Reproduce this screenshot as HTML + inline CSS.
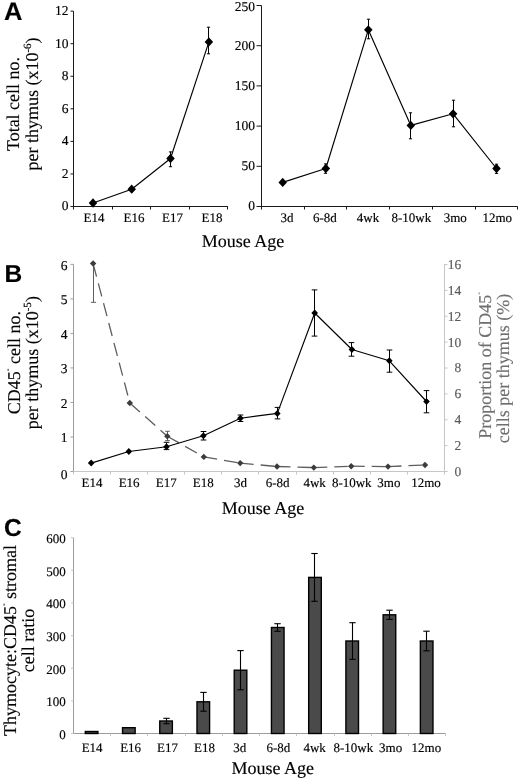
<!DOCTYPE html>
<html><head><meta charset="utf-8"><style>
html,body{margin:0;padding:0;background:#fff;}
body{width:520px;height:781px;overflow:hidden;font-family:"Liberation Serif", serif;}
svg{display:block;filter:grayscale(1) blur(0.35px);}
text{text-rendering:geometricPrecision;stroke:currentColor;stroke-width:0.15px;}
</style></head><body>
<svg width="520" height="781" viewBox="0 0 520 781">
<rect width="520" height="781" fill="#fff"/>
<line x1="73.5" y1="11.14" x2="73.5" y2="209.5" stroke="#1a1a1a" stroke-width="1" />
<line x1="73.5" y1="206.5" x2="227.9" y2="206.5" stroke="#1a1a1a" stroke-width="1" />
<line x1="70.5" y1="206.5" x2="73.5" y2="206.5" stroke="#1a1a1a" stroke-width="1" />
<text x="68.5" y="210.4" font-size="13.5" text-anchor="end" fill="#000" color="#000" font-family='"Liberation Serif", serif' font-weight="normal" >0</text>
<line x1="70.5" y1="173.94" x2="73.5" y2="173.94" stroke="#1a1a1a" stroke-width="1" />
<text x="68.5" y="177.84" font-size="13.5" text-anchor="end" fill="#000" color="#000" font-family='"Liberation Serif", serif' font-weight="normal" >2</text>
<line x1="70.5" y1="141.38" x2="73.5" y2="141.38" stroke="#1a1a1a" stroke-width="1" />
<text x="68.5" y="145.28" font-size="13.5" text-anchor="end" fill="#000" color="#000" font-family='"Liberation Serif", serif' font-weight="normal" >4</text>
<line x1="70.5" y1="108.82" x2="73.5" y2="108.82" stroke="#1a1a1a" stroke-width="1" />
<text x="68.5" y="112.72" font-size="13.5" text-anchor="end" fill="#000" color="#000" font-family='"Liberation Serif", serif' font-weight="normal" >6</text>
<line x1="70.5" y1="76.26" x2="73.5" y2="76.26" stroke="#1a1a1a" stroke-width="1" />
<text x="68.5" y="80.16" font-size="13.5" text-anchor="end" fill="#000" color="#000" font-family='"Liberation Serif", serif' font-weight="normal" >8</text>
<line x1="70.5" y1="43.7" x2="73.5" y2="43.7" stroke="#1a1a1a" stroke-width="1" />
<text x="68.5" y="47.6" font-size="13.5" text-anchor="end" fill="#000" color="#000" font-family='"Liberation Serif", serif' font-weight="normal" >10</text>
<line x1="70.5" y1="11.14" x2="73.5" y2="11.14" stroke="#1a1a1a" stroke-width="1" />
<text x="68.5" y="15.04" font-size="13.5" text-anchor="end" fill="#000" color="#000" font-family='"Liberation Serif", serif' font-weight="normal" >12</text>
<line x1="112.5" y1="206.5" x2="112.5" y2="209.5" stroke="#1a1a1a" stroke-width="1" />
<line x1="150.5" y1="206.5" x2="150.5" y2="209.5" stroke="#1a1a1a" stroke-width="1" />
<line x1="189.5" y1="206.5" x2="189.5" y2="209.5" stroke="#1a1a1a" stroke-width="1" />
<line x1="227.5" y1="206.5" x2="227.5" y2="209.5" stroke="#1a1a1a" stroke-width="1" />
<text x="94" y="222.1" font-size="13" text-anchor="middle" fill="#000" color="#000" font-family='"Liberation Serif", serif' font-weight="normal" >E14</text>
<text x="134" y="222.1" font-size="13" text-anchor="middle" fill="#000" color="#000" font-family='"Liberation Serif", serif' font-weight="normal" >E16</text>
<text x="172.6" y="222.1" font-size="13" text-anchor="middle" fill="#000" color="#000" font-family='"Liberation Serif", serif' font-weight="normal" >E17</text>
<text x="212.1" y="222.1" font-size="13" text-anchor="middle" fill="#000" color="#000" font-family='"Liberation Serif", serif' font-weight="normal" >E18</text>
<polyline points="93,203 131.7,189.2 170.5,158.5 208.9,41.9" fill="none" stroke="#000" stroke-width="1.15" stroke-linejoin="round" />
<polygon points="93,198.35 97.25,203 93,207.65 88.75,203" fill="#000" stroke="none" stroke-width="0"/>
<polygon points="131.7,184.55 135.95,189.2 131.7,193.85 127.45,189.2" fill="#000" stroke="none" stroke-width="0"/>
<line x1="170.5" y1="151.9" x2="170.5" y2="166.7" stroke="#000" stroke-width="1" />
<line x1="168.9" y1="151.9" x2="172.1" y2="151.9" stroke="#000" stroke-width="1" />
<line x1="168.9" y1="166.7" x2="172.1" y2="166.7" stroke="#000" stroke-width="1" />
<polygon points="170.5,153.85 174.75,158.5 170.5,163.15 166.25,158.5" fill="#000" stroke="none" stroke-width="0"/>
<line x1="208.5" y1="27.2" x2="208.5" y2="53.8" stroke="#000" stroke-width="1" />
<line x1="206.9" y1="27.2" x2="210.1" y2="27.2" stroke="#000" stroke-width="1" />
<line x1="206.9" y1="53.8" x2="210.1" y2="53.8" stroke="#000" stroke-width="1" />
<polygon points="208.9,37.25 213.15,41.9 208.9,46.55 204.65,41.9" fill="#000" stroke="none" stroke-width="0"/>
<line x1="261.5" y1="5.5" x2="261.5" y2="209.5" stroke="#1a1a1a" stroke-width="1" />
<line x1="261.5" y1="206.5" x2="517.7" y2="206.5" stroke="#1a1a1a" stroke-width="1" />
<line x1="256.5" y1="206.5" x2="261.5" y2="206.5" stroke="#1a1a1a" stroke-width="1" />
<text x="255" y="210.4" font-size="13.5" text-anchor="end" fill="#000" color="#000" font-family='"Liberation Serif", serif' font-weight="normal" >0</text>
<line x1="256.5" y1="166.3" x2="261.5" y2="166.3" stroke="#1a1a1a" stroke-width="1" />
<text x="255" y="170.2" font-size="13.5" text-anchor="end" fill="#000" color="#000" font-family='"Liberation Serif", serif' font-weight="normal" >50</text>
<line x1="256.5" y1="126.1" x2="261.5" y2="126.1" stroke="#1a1a1a" stroke-width="1" />
<text x="255" y="130" font-size="13.5" text-anchor="end" fill="#000" color="#000" font-family='"Liberation Serif", serif' font-weight="normal" >100</text>
<line x1="256.5" y1="85.9" x2="261.5" y2="85.9" stroke="#1a1a1a" stroke-width="1" />
<text x="255" y="89.8" font-size="13.5" text-anchor="end" fill="#000" color="#000" font-family='"Liberation Serif", serif' font-weight="normal" >150</text>
<line x1="256.5" y1="45.7" x2="261.5" y2="45.7" stroke="#1a1a1a" stroke-width="1" />
<text x="255" y="49.6" font-size="13.5" text-anchor="end" fill="#000" color="#000" font-family='"Liberation Serif", serif' font-weight="normal" >200</text>
<line x1="256.5" y1="5.5" x2="261.5" y2="5.5" stroke="#1a1a1a" stroke-width="1" />
<text x="255" y="11.4" font-size="13.5" text-anchor="end" fill="#000" color="#000" font-family='"Liberation Serif", serif' font-weight="normal" >250</text>
<line x1="304.5" y1="206.5" x2="304.5" y2="209.5" stroke="#1a1a1a" stroke-width="1" />
<line x1="346.5" y1="206.5" x2="346.5" y2="209.5" stroke="#1a1a1a" stroke-width="1" />
<line x1="389.5" y1="206.5" x2="389.5" y2="209.5" stroke="#1a1a1a" stroke-width="1" />
<line x1="432.5" y1="206.5" x2="432.5" y2="209.5" stroke="#1a1a1a" stroke-width="1" />
<line x1="475.5" y1="206.5" x2="475.5" y2="209.5" stroke="#1a1a1a" stroke-width="1" />
<line x1="517.5" y1="206.5" x2="517.5" y2="209.5" stroke="#1a1a1a" stroke-width="1" />
<text x="287" y="222.1" font-size="13" text-anchor="middle" fill="#000" color="#000" font-family='"Liberation Serif", serif' font-weight="normal" >3d</text>
<text x="324.9" y="222.1" font-size="13" text-anchor="middle" fill="#000" color="#000" font-family='"Liberation Serif", serif' font-weight="normal" >6-8d</text>
<text x="368" y="222.1" font-size="13" text-anchor="middle" fill="#000" color="#000" font-family='"Liberation Serif", serif' font-weight="normal" >4wk</text>
<text x="411.4" y="222.1" font-size="13" text-anchor="middle" fill="#000" color="#000" font-family='"Liberation Serif", serif' font-weight="normal" >8-10wk</text>
<text x="455.2" y="222.1" font-size="13" text-anchor="middle" fill="#000" color="#000" font-family='"Liberation Serif", serif' font-weight="normal" >3mo</text>
<text x="497.2" y="222.1" font-size="13" text-anchor="middle" fill="#000" color="#000" font-family='"Liberation Serif", serif' font-weight="normal" >12mo</text>
<polyline points="282.7,182.4 325.8,168.5 368.3,29.8 410.8,125.4 453.1,113.8 496.5,168.5" fill="none" stroke="#000" stroke-width="1.15" stroke-linejoin="round" />
<polygon points="282.7,177.75 286.95,182.4 282.7,187.05 278.45,182.4" fill="#000" stroke="none" stroke-width="0"/>
<line x1="325.5" y1="163.9" x2="325.5" y2="173.3" stroke="#000" stroke-width="1" />
<line x1="323.9" y1="163.9" x2="327.1" y2="163.9" stroke="#000" stroke-width="1" />
<line x1="323.9" y1="173.3" x2="327.1" y2="173.3" stroke="#000" stroke-width="1" />
<polygon points="325.8,163.85 330.05,168.5 325.8,173.15 321.55,168.5" fill="#000" stroke="none" stroke-width="0"/>
<line x1="368.5" y1="19.2" x2="368.5" y2="38.8" stroke="#000" stroke-width="1" />
<line x1="366.9" y1="19.2" x2="370.1" y2="19.2" stroke="#000" stroke-width="1" />
<line x1="366.9" y1="38.8" x2="370.1" y2="38.8" stroke="#000" stroke-width="1" />
<polygon points="368.3,25.15 372.55,29.8 368.3,34.45 364.05,29.8" fill="#000" stroke="none" stroke-width="0"/>
<line x1="410.5" y1="112.8" x2="410.5" y2="138.8" stroke="#000" stroke-width="1" />
<line x1="408.9" y1="112.8" x2="412.1" y2="112.8" stroke="#000" stroke-width="1" />
<line x1="408.9" y1="138.8" x2="412.1" y2="138.8" stroke="#000" stroke-width="1" />
<polygon points="410.8,120.75 415.05,125.4 410.8,130.05 406.55,125.4" fill="#000" stroke="none" stroke-width="0"/>
<line x1="453.5" y1="100.2" x2="453.5" y2="126.8" stroke="#000" stroke-width="1" />
<line x1="451.9" y1="100.2" x2="455.1" y2="100.2" stroke="#000" stroke-width="1" />
<line x1="451.9" y1="126.8" x2="455.1" y2="126.8" stroke="#000" stroke-width="1" />
<polygon points="453.1,109.15 457.35,113.8 453.1,118.45 448.85,113.8" fill="#000" stroke="none" stroke-width="0"/>
<line x1="496.5" y1="164.2" x2="496.5" y2="173.4" stroke="#000" stroke-width="1" />
<line x1="494.9" y1="164.2" x2="498.1" y2="164.2" stroke="#000" stroke-width="1" />
<line x1="494.9" y1="173.4" x2="498.1" y2="173.4" stroke="#000" stroke-width="1" />
<polygon points="496.5,163.85 500.75,168.5 496.5,173.15 492.25,168.5" fill="#000" stroke="none" stroke-width="0"/>
<text x="4" y="19.8" font-size="25.5" text-anchor="start" fill="#000" color="#000" font-family='"Liberation Sans", sans-serif' font-weight="bold" >A</text>
<text x="243" y="247" font-size="18" text-anchor="middle" fill="#000" color="#000" font-family='"Liberation Serif", serif' font-weight="normal" >Mouse Age</text>
<g transform="translate(19.2,104) rotate(-90)"><text x="0" y="0" font-size="18" text-anchor="middle" font-family='"Liberation Serif", serif'>Total cell no.</text></g>
<g transform="translate(37.5,104) rotate(-90)"><text x="0" y="0" font-size="18" text-anchor="middle" font-family='"Liberation Serif", serif'>per thymus (x10<tspan font-size="11" dy="-7">-6</tspan><tspan dy="7">)</tspan></text></g>
<line x1="73.5" y1="264.38" x2="73.5" y2="471.5" stroke="#9c9c9c" stroke-width="1" />
<line x1="73.5" y1="471.5" x2="447.5" y2="471.5" stroke="#c6c6c6" stroke-width="1" />
<line x1="444.5" y1="264.38" x2="444.5" y2="474.5" stroke="#c6c6c6" stroke-width="1" />
<line x1="70.5" y1="471.5" x2="73.5" y2="471.5" stroke="#9c9c9c" stroke-width="1" />
<text x="67.5" y="478.5" font-size="13.5" text-anchor="end" fill="#000" color="#000" font-family='"Liberation Serif", serif' font-weight="normal" >0</text>
<line x1="70.5" y1="436.98" x2="73.5" y2="436.98" stroke="#9c9c9c" stroke-width="1" />
<text x="67.5" y="442.38" font-size="13.5" text-anchor="end" fill="#000" color="#000" font-family='"Liberation Serif", serif' font-weight="normal" >1</text>
<line x1="70.5" y1="402.46" x2="73.5" y2="402.46" stroke="#9c9c9c" stroke-width="1" />
<text x="67.5" y="407.86" font-size="13.5" text-anchor="end" fill="#000" color="#000" font-family='"Liberation Serif", serif' font-weight="normal" >2</text>
<line x1="70.5" y1="367.94" x2="73.5" y2="367.94" stroke="#9c9c9c" stroke-width="1" />
<text x="67.5" y="373.34" font-size="13.5" text-anchor="end" fill="#000" color="#000" font-family='"Liberation Serif", serif' font-weight="normal" >3</text>
<line x1="70.5" y1="333.42" x2="73.5" y2="333.42" stroke="#9c9c9c" stroke-width="1" />
<text x="67.5" y="338.82" font-size="13.5" text-anchor="end" fill="#000" color="#000" font-family='"Liberation Serif", serif' font-weight="normal" >4</text>
<line x1="70.5" y1="298.9" x2="73.5" y2="298.9" stroke="#9c9c9c" stroke-width="1" />
<text x="67.5" y="304.3" font-size="13.5" text-anchor="end" fill="#000" color="#000" font-family='"Liberation Serif", serif' font-weight="normal" >5</text>
<line x1="70.5" y1="264.38" x2="73.5" y2="264.38" stroke="#9c9c9c" stroke-width="1" />
<text x="67.5" y="269.78" font-size="13.5" text-anchor="end" fill="#000" color="#000" font-family='"Liberation Serif", serif' font-weight="normal" >6</text>
<line x1="444.5" y1="471.5" x2="447.5" y2="471.5" stroke="#c6c6c6" stroke-width="1" />
<text x="461.3" y="475.9" font-size="13.5" text-anchor="end" fill="#5a5a5a" color="#5a5a5a" font-family='"Liberation Serif", serif' font-weight="normal" >0</text>
<line x1="444.5" y1="445.62" x2="447.5" y2="445.62" stroke="#c6c6c6" stroke-width="1" />
<text x="461.3" y="450.02" font-size="13.5" text-anchor="end" fill="#5a5a5a" color="#5a5a5a" font-family='"Liberation Serif", serif' font-weight="normal" >2</text>
<line x1="444.5" y1="419.75" x2="447.5" y2="419.75" stroke="#c6c6c6" stroke-width="1" />
<text x="461.3" y="424.15" font-size="13.5" text-anchor="end" fill="#5a5a5a" color="#5a5a5a" font-family='"Liberation Serif", serif' font-weight="normal" >4</text>
<line x1="444.5" y1="393.88" x2="447.5" y2="393.88" stroke="#c6c6c6" stroke-width="1" />
<text x="461.3" y="398.27" font-size="13.5" text-anchor="end" fill="#5a5a5a" color="#5a5a5a" font-family='"Liberation Serif", serif' font-weight="normal" >6</text>
<line x1="444.5" y1="368" x2="447.5" y2="368" stroke="#c6c6c6" stroke-width="1" />
<text x="461.3" y="372.4" font-size="13.5" text-anchor="end" fill="#5a5a5a" color="#5a5a5a" font-family='"Liberation Serif", serif' font-weight="normal" >8</text>
<line x1="444.5" y1="342.12" x2="447.5" y2="342.12" stroke="#c6c6c6" stroke-width="1" />
<text x="461.3" y="346.52" font-size="13.5" text-anchor="end" fill="#5a5a5a" color="#5a5a5a" font-family='"Liberation Serif", serif' font-weight="normal" >10</text>
<line x1="444.5" y1="316.25" x2="447.5" y2="316.25" stroke="#c6c6c6" stroke-width="1" />
<text x="461.3" y="320.65" font-size="13.5" text-anchor="end" fill="#5a5a5a" color="#5a5a5a" font-family='"Liberation Serif", serif' font-weight="normal" >12</text>
<line x1="444.5" y1="290.38" x2="447.5" y2="290.38" stroke="#c6c6c6" stroke-width="1" />
<text x="461.3" y="294.77" font-size="13.5" text-anchor="end" fill="#5a5a5a" color="#5a5a5a" font-family='"Liberation Serif", serif' font-weight="normal" >14</text>
<line x1="444.5" y1="264.5" x2="447.5" y2="264.5" stroke="#c6c6c6" stroke-width="1" />
<text x="461.3" y="268.9" font-size="13.5" text-anchor="end" fill="#5a5a5a" color="#5a5a5a" font-family='"Liberation Serif", serif' font-weight="normal" >16</text>
<line x1="73.5" y1="471.5" x2="73.5" y2="474.5" stroke="#c6c6c6" stroke-width="1" />
<line x1="110.5" y1="471.5" x2="110.5" y2="474.5" stroke="#c6c6c6" stroke-width="1" />
<line x1="147.5" y1="471.5" x2="147.5" y2="474.5" stroke="#c6c6c6" stroke-width="1" />
<line x1="184.5" y1="471.5" x2="184.5" y2="474.5" stroke="#c6c6c6" stroke-width="1" />
<line x1="221.5" y1="471.5" x2="221.5" y2="474.5" stroke="#c6c6c6" stroke-width="1" />
<line x1="258.5" y1="471.5" x2="258.5" y2="474.5" stroke="#c6c6c6" stroke-width="1" />
<line x1="296.5" y1="471.5" x2="296.5" y2="474.5" stroke="#c6c6c6" stroke-width="1" />
<line x1="333.5" y1="471.5" x2="333.5" y2="474.5" stroke="#c6c6c6" stroke-width="1" />
<line x1="370.5" y1="471.5" x2="370.5" y2="474.5" stroke="#c6c6c6" stroke-width="1" />
<line x1="407.5" y1="471.5" x2="407.5" y2="474.5" stroke="#c6c6c6" stroke-width="1" />
<line x1="444.5" y1="471.5" x2="444.5" y2="474.5" stroke="#c6c6c6" stroke-width="1" />
<text x="92.05" y="486.5" font-size="13" text-anchor="middle" fill="#000" color="#000" font-family='"Liberation Serif", serif' font-weight="normal" >E14</text>
<text x="129.15" y="486.5" font-size="13" text-anchor="middle" fill="#000" color="#000" font-family='"Liberation Serif", serif' font-weight="normal" >E16</text>
<text x="166.25" y="486.5" font-size="13" text-anchor="middle" fill="#000" color="#000" font-family='"Liberation Serif", serif' font-weight="normal" >E17</text>
<text x="203.35" y="486.5" font-size="13" text-anchor="middle" fill="#000" color="#000" font-family='"Liberation Serif", serif' font-weight="normal" >E18</text>
<text x="240.45" y="486.5" font-size="13" text-anchor="middle" fill="#000" color="#000" font-family='"Liberation Serif", serif' font-weight="normal" >3d</text>
<text x="277.55" y="486.5" font-size="13" text-anchor="middle" fill="#000" color="#000" font-family='"Liberation Serif", serif' font-weight="normal" >6-8d</text>
<text x="314.65" y="486.5" font-size="13" text-anchor="middle" fill="#000" color="#000" font-family='"Liberation Serif", serif' font-weight="normal" >4wk</text>
<text x="351.75" y="486.5" font-size="13" text-anchor="middle" fill="#000" color="#000" font-family='"Liberation Serif", serif' font-weight="normal" >8-10wk</text>
<text x="388.85" y="486.5" font-size="13" text-anchor="middle" fill="#000" color="#000" font-family='"Liberation Serif", serif' font-weight="normal" >3mo</text>
<text x="425.95" y="486.5" font-size="13" text-anchor="middle" fill="#000" color="#000" font-family='"Liberation Serif", serif' font-weight="normal" >12mo</text>
<line x1="93.1" y1="263.5" x2="129.8" y2="403" stroke="#5e5e5e" stroke-width="1.3" stroke-dasharray="13.5 7"/>
<line x1="129.8" y1="403" x2="167.3" y2="436.2" stroke="#5e5e5e" stroke-width="1.3" stroke-dasharray="13.5 7"/>
<line x1="167.3" y1="436.2" x2="203.8" y2="456.9" stroke="#5e5e5e" stroke-width="1.3" stroke-dasharray="13.5 7"/>
<line x1="203.8" y1="456.9" x2="240.2" y2="463.1" stroke="#5e5e5e" stroke-width="1.3" stroke-dasharray="13.5 7"/>
<line x1="240.2" y1="463.1" x2="277" y2="466.5" stroke="#5e5e5e" stroke-width="1.3" stroke-dasharray="13.5 7"/>
<line x1="277" y1="466.5" x2="313.8" y2="467.6" stroke="#5e5e5e" stroke-width="1.3" stroke-dasharray="13.5 7"/>
<line x1="313.8" y1="467.6" x2="351.2" y2="466.2" stroke="#5e5e5e" stroke-width="1.3" stroke-dasharray="13.5 7"/>
<line x1="351.2" y1="466.2" x2="388" y2="466.6" stroke="#5e5e5e" stroke-width="1.3" stroke-dasharray="13.5 7"/>
<line x1="388" y1="466.6" x2="425" y2="465" stroke="#5e5e5e" stroke-width="1.3" stroke-dasharray="13.5 7"/>
<line x1="93.5" y1="263.5" x2="93.5" y2="302.3" stroke="#5e5e5e" stroke-width="1" />
<line x1="90.9" y1="302.3" x2="96.1" y2="302.3" stroke="#5e5e5e" stroke-width="1" />
<line x1="167.5" y1="431.3" x2="167.5" y2="440.6" stroke="#5e5e5e" stroke-width="1" />
<line x1="165.2" y1="431.3" x2="169.8" y2="431.3" stroke="#5e5e5e" stroke-width="1" />
<line x1="165.2" y1="440.6" x2="169.8" y2="440.6" stroke="#5e5e5e" stroke-width="1" />
<polyline points="91.2,463.1 128.8,451.5 166.5,446.7 203.4,435.8 240.4,418.2 277.3,413.4 314.7,313 351.9,349.5 389.3,360.8 426.5,401.5" fill="none" stroke="#000" stroke-width="1.15" stroke-linejoin="round" />
<line x1="166.5" y1="442.3" x2="166.5" y2="449.6" stroke="#000" stroke-width="1" />
<line x1="163.7" y1="442.3" x2="169.3" y2="442.3" stroke="#000" stroke-width="1" />
<line x1="163.7" y1="449.6" x2="169.3" y2="449.6" stroke="#000" stroke-width="1" />
<line x1="203.5" y1="431.5" x2="203.5" y2="440" stroke="#000" stroke-width="1" />
<line x1="200.7" y1="431.5" x2="206.3" y2="431.5" stroke="#000" stroke-width="1" />
<line x1="200.7" y1="440" x2="206.3" y2="440" stroke="#000" stroke-width="1" />
<line x1="240.5" y1="415" x2="240.5" y2="421.5" stroke="#000" stroke-width="1" />
<line x1="237.7" y1="415" x2="243.3" y2="415" stroke="#000" stroke-width="1" />
<line x1="237.7" y1="421.5" x2="243.3" y2="421.5" stroke="#000" stroke-width="1" />
<line x1="277.5" y1="407.4" x2="277.5" y2="418.9" stroke="#000" stroke-width="1" />
<line x1="274.7" y1="407.4" x2="280.3" y2="407.4" stroke="#000" stroke-width="1" />
<line x1="274.7" y1="418.9" x2="280.3" y2="418.9" stroke="#000" stroke-width="1" />
<line x1="314.5" y1="289.9" x2="314.5" y2="336.1" stroke="#000" stroke-width="1" />
<line x1="311.7" y1="289.9" x2="317.3" y2="289.9" stroke="#000" stroke-width="1" />
<line x1="311.7" y1="336.1" x2="317.3" y2="336.1" stroke="#000" stroke-width="1" />
<line x1="351.5" y1="342.6" x2="351.5" y2="356.2" stroke="#000" stroke-width="1" />
<line x1="348.7" y1="342.6" x2="354.3" y2="342.6" stroke="#000" stroke-width="1" />
<line x1="348.7" y1="356.2" x2="354.3" y2="356.2" stroke="#000" stroke-width="1" />
<line x1="389.5" y1="350" x2="389.5" y2="372.2" stroke="#000" stroke-width="1" />
<line x1="386.7" y1="350" x2="392.3" y2="350" stroke="#000" stroke-width="1" />
<line x1="386.7" y1="372.2" x2="392.3" y2="372.2" stroke="#000" stroke-width="1" />
<line x1="426.5" y1="390.6" x2="426.5" y2="412.8" stroke="#000" stroke-width="1" />
<line x1="423.7" y1="390.6" x2="429.3" y2="390.6" stroke="#000" stroke-width="1" />
<line x1="423.7" y1="412.8" x2="429.3" y2="412.8" stroke="#000" stroke-width="1" />
<polygon points="93.1,260.3 96.3,263.5 93.1,266.7 89.9,263.5" fill="#3c3c3c" stroke="none" stroke-width="0"/>
<polygon points="129.8,399.8 133,403 129.8,406.2 126.6,403" fill="#3c3c3c" stroke="none" stroke-width="0"/>
<polygon points="167.3,433 170.5,436.2 167.3,439.4 164.1,436.2" fill="#3c3c3c" stroke="none" stroke-width="0"/>
<polygon points="203.8,453.7 207,456.9 203.8,460.1 200.6,456.9" fill="#3c3c3c" stroke="none" stroke-width="0"/>
<polygon points="240.2,459.9 243.4,463.1 240.2,466.3 237,463.1" fill="#3c3c3c" stroke="none" stroke-width="0"/>
<polygon points="277,463.3 280.2,466.5 277,469.7 273.8,466.5" fill="#3c3c3c" stroke="none" stroke-width="0"/>
<polygon points="313.8,464.4 317,467.6 313.8,470.8 310.6,467.6" fill="#3c3c3c" stroke="none" stroke-width="0"/>
<polygon points="351.2,463 354.4,466.2 351.2,469.4 348,466.2" fill="#3c3c3c" stroke="none" stroke-width="0"/>
<polygon points="388,463.4 391.2,466.6 388,469.8 384.8,466.6" fill="#3c3c3c" stroke="none" stroke-width="0"/>
<polygon points="425,461.8 428.2,465 425,468.2 421.8,465" fill="#3c3c3c" stroke="none" stroke-width="0"/>
<polygon points="91.2,459.6 94.5,463.1 91.2,466.6 87.9,463.1" fill="#000" stroke="none" stroke-width="0"/>
<polygon points="128.8,448 132.1,451.5 128.8,455 125.5,451.5" fill="#000" stroke="none" stroke-width="0"/>
<polygon points="166.5,443.2 169.8,446.7 166.5,450.2 163.2,446.7" fill="#000" stroke="none" stroke-width="0"/>
<polygon points="203.4,432.3 206.7,435.8 203.4,439.3 200.1,435.8" fill="#000" stroke="none" stroke-width="0"/>
<polygon points="240.4,414.7 243.7,418.2 240.4,421.7 237.1,418.2" fill="#000" stroke="none" stroke-width="0"/>
<polygon points="277.3,409.9 280.6,413.4 277.3,416.9 274,413.4" fill="#000" stroke="none" stroke-width="0"/>
<polygon points="314.7,309.5 318,313 314.7,316.5 311.4,313" fill="#000" stroke="none" stroke-width="0"/>
<polygon points="351.9,346 355.2,349.5 351.9,353 348.6,349.5" fill="#000" stroke="none" stroke-width="0"/>
<polygon points="389.3,357.3 392.6,360.8 389.3,364.3 386,360.8" fill="#000" stroke="none" stroke-width="0"/>
<polygon points="426.5,398 429.8,401.5 426.5,405 423.2,401.5" fill="#000" stroke="none" stroke-width="0"/>
<text x="4.5" y="282" font-size="24.5" text-anchor="start" fill="#000" color="#000" font-family='"Liberation Sans", sans-serif' font-weight="bold" >B</text>
<text x="263" y="513.5" font-size="18" text-anchor="middle" fill="#000" color="#000" font-family='"Liberation Serif", serif' font-weight="normal" >Mouse Age</text>
<g transform="translate(19.5,362.7) rotate(-90)"><text x="0" y="0" font-size="18" text-anchor="middle" font-family='"Liberation Serif", serif'>CD45<tspan font-size="8" dy="-9.5">-</tspan><tspan dy="9.5"> cell no.</tspan></text></g>
<g transform="translate(37.6,362.7) rotate(-90)"><text x="0" y="0" font-size="18" text-anchor="middle" font-family='"Liberation Serif", serif'>per thymus (x10<tspan font-size="11" dy="-7">-5</tspan><tspan dy="7">)</tspan></text></g>
<g transform="translate(490.8,365.4) rotate(-90)"><text x="0" y="0" font-size="18" text-anchor="middle" fill="#6e6e6e" color="#6e6e6e" font-family='"Liberation Serif", serif'>Proportion of CD45<tspan font-size="8" dy="-9.5">-</tspan></text></g>
<g transform="translate(509,368.4) rotate(-90)"><text x="0" y="0" font-size="18" text-anchor="middle" fill="#6e6e6e" color="#6e6e6e" font-family='"Liberation Serif", serif'>cells per thymus (%)</text></g>
<line x1="73.5" y1="537.7" x2="73.5" y2="733.5" stroke="#9c9c9c" stroke-width="1" />
<line x1="73.5" y1="733.5" x2="445.9" y2="733.5" stroke="#9c9c9c" stroke-width="1" />
<line x1="71" y1="733.5" x2="73.5" y2="733.5" stroke="#c6c6c6" stroke-width="1" />
<text x="65.7" y="738.9" font-size="13" text-anchor="end" fill="#000" color="#000" font-family='"Liberation Serif", serif' font-weight="normal" >0</text>
<line x1="71" y1="700.87" x2="73.5" y2="700.87" stroke="#c6c6c6" stroke-width="1" />
<text x="65.7" y="706.27" font-size="13" text-anchor="end" fill="#000" color="#000" font-family='"Liberation Serif", serif' font-weight="normal" >100</text>
<line x1="71" y1="668.23" x2="73.5" y2="668.23" stroke="#c6c6c6" stroke-width="1" />
<text x="65.7" y="673.63" font-size="13" text-anchor="end" fill="#000" color="#000" font-family='"Liberation Serif", serif' font-weight="normal" >200</text>
<line x1="71" y1="635.6" x2="73.5" y2="635.6" stroke="#c6c6c6" stroke-width="1" />
<text x="65.7" y="641" font-size="13" text-anchor="end" fill="#000" color="#000" font-family='"Liberation Serif", serif' font-weight="normal" >300</text>
<line x1="71" y1="602.97" x2="73.5" y2="602.97" stroke="#c6c6c6" stroke-width="1" />
<text x="65.7" y="608.37" font-size="13" text-anchor="end" fill="#000" color="#000" font-family='"Liberation Serif", serif' font-weight="normal" >400</text>
<line x1="71" y1="570.33" x2="73.5" y2="570.33" stroke="#c6c6c6" stroke-width="1" />
<text x="65.7" y="575.73" font-size="13" text-anchor="end" fill="#000" color="#000" font-family='"Liberation Serif", serif' font-weight="normal" >500</text>
<line x1="71" y1="537.7" x2="73.5" y2="537.7" stroke="#c6c6c6" stroke-width="1" />
<text x="65.7" y="543.1" font-size="13" text-anchor="end" fill="#000" color="#000" font-family='"Liberation Serif", serif' font-weight="normal" >600</text>
<line x1="110.5" y1="733.5" x2="110.5" y2="736" stroke="#c6c6c6" stroke-width="1" />
<line x1="147.5" y1="733.5" x2="147.5" y2="736" stroke="#c6c6c6" stroke-width="1" />
<line x1="185.5" y1="733.5" x2="185.5" y2="736" stroke="#c6c6c6" stroke-width="1" />
<line x1="222.5" y1="733.5" x2="222.5" y2="736" stroke="#c6c6c6" stroke-width="1" />
<line x1="259.5" y1="733.5" x2="259.5" y2="736" stroke="#c6c6c6" stroke-width="1" />
<line x1="296.5" y1="733.5" x2="296.5" y2="736" stroke="#c6c6c6" stroke-width="1" />
<line x1="334.5" y1="733.5" x2="334.5" y2="736" stroke="#c6c6c6" stroke-width="1" />
<line x1="371.5" y1="733.5" x2="371.5" y2="736" stroke="#c6c6c6" stroke-width="1" />
<line x1="408.5" y1="733.5" x2="408.5" y2="736" stroke="#c6c6c6" stroke-width="1" />
<line x1="445.5" y1="733.5" x2="445.5" y2="736" stroke="#c6c6c6" stroke-width="1" />
<text x="92.12" y="752" font-size="13" text-anchor="middle" fill="#000" color="#000" font-family='"Liberation Serif", serif' font-weight="normal" >E14</text>
<rect x="85.3" y="731.5" width="12.6" height="2" fill="#4a4a4a" stroke="#000" stroke-width="1.4"/>
<text x="130.66" y="752" font-size="13" text-anchor="middle" fill="#000" color="#000" font-family='"Liberation Serif", serif' font-weight="normal" >E16</text>
<rect x="122.53" y="727.7" width="12.6" height="5.8" fill="#4a4a4a" stroke="#000" stroke-width="1.4"/>
<text x="167.5" y="752" font-size="13" text-anchor="middle" fill="#000" color="#000" font-family='"Liberation Serif", serif' font-weight="normal" >E17</text>
<rect x="159.76" y="721" width="12.6" height="12.5" fill="#4a4a4a" stroke="#000" stroke-width="1.4"/>
<text x="204.54" y="752" font-size="13" text-anchor="middle" fill="#000" color="#000" font-family='"Liberation Serif", serif' font-weight="normal" >E18</text>
<rect x="196.99" y="701.8" width="12.6" height="31.7" fill="#4a4a4a" stroke="#000" stroke-width="1.4"/>
<text x="239.83" y="752" font-size="13" text-anchor="middle" fill="#000" color="#000" font-family='"Liberation Serif", serif' font-weight="normal" >3d</text>
<rect x="234.22" y="670.2" width="12.6" height="63.3" fill="#4a4a4a" stroke="#000" stroke-width="1.4"/>
<text x="278.32" y="752" font-size="13" text-anchor="middle" fill="#000" color="#000" font-family='"Liberation Serif", serif' font-weight="normal" >6-8d</text>
<rect x="271.45" y="627.5" width="12.6" height="106" fill="#4a4a4a" stroke="#000" stroke-width="1.4"/>
<text x="314.66" y="752" font-size="13" text-anchor="middle" fill="#000" color="#000" font-family='"Liberation Serif", serif' font-weight="normal" >4wk</text>
<rect x="308.68" y="577.4" width="12.6" height="156.1" fill="#4a4a4a" stroke="#000" stroke-width="1.4"/>
<text x="353.3" y="752" font-size="13" text-anchor="middle" fill="#000" color="#000" font-family='"Liberation Serif", serif' font-weight="normal" >8-10wk</text>
<rect x="345.91" y="641" width="12.6" height="92.5" fill="#4a4a4a" stroke="#000" stroke-width="1.4"/>
<text x="390.64" y="752" font-size="13" text-anchor="middle" fill="#000" color="#000" font-family='"Liberation Serif", serif' font-weight="normal" >3mo</text>
<rect x="383.14" y="614.8" width="12.6" height="118.7" fill="#4a4a4a" stroke="#000" stroke-width="1.4"/>
<text x="426.38" y="752" font-size="13" text-anchor="middle" fill="#000" color="#000" font-family='"Liberation Serif", serif' font-weight="normal" >12mo</text>
<rect x="420.37" y="641" width="12.6" height="92.5" fill="#4a4a4a" stroke="#000" stroke-width="1.4"/>
<line x1="166.5" y1="718.3" x2="166.5" y2="723.7" stroke="#000" stroke-width="1.1" />
<line x1="163.3" y1="718.3" x2="169.7" y2="718.3" stroke="#000" stroke-width="1.1" />
<line x1="163.3" y1="723.7" x2="169.7" y2="723.7" stroke="#000" stroke-width="1.1" />
<line x1="203.5" y1="692.4" x2="203.5" y2="711.2" stroke="#000" stroke-width="1.1" />
<line x1="200.3" y1="692.4" x2="206.7" y2="692.4" stroke="#000" stroke-width="1.1" />
<line x1="200.3" y1="711.2" x2="206.7" y2="711.2" stroke="#000" stroke-width="1.1" />
<line x1="240.5" y1="650.6" x2="240.5" y2="689.8" stroke="#000" stroke-width="1.1" />
<line x1="237.3" y1="650.6" x2="243.7" y2="650.6" stroke="#000" stroke-width="1.1" />
<line x1="237.3" y1="689.8" x2="243.7" y2="689.8" stroke="#000" stroke-width="1.1" />
<line x1="277.5" y1="623.7" x2="277.5" y2="631.3" stroke="#000" stroke-width="1.1" />
<line x1="274.3" y1="623.7" x2="280.7" y2="623.7" stroke="#000" stroke-width="1.1" />
<line x1="274.3" y1="631.3" x2="280.7" y2="631.3" stroke="#000" stroke-width="1.1" />
<line x1="314.5" y1="553.5" x2="314.5" y2="601.3" stroke="#000" stroke-width="1.1" />
<line x1="311.3" y1="553.5" x2="317.7" y2="553.5" stroke="#000" stroke-width="1.1" />
<line x1="311.3" y1="601.3" x2="317.7" y2="601.3" stroke="#000" stroke-width="1.1" />
<line x1="352.5" y1="622.7" x2="352.5" y2="659.3" stroke="#000" stroke-width="1.1" />
<line x1="349.3" y1="622.7" x2="355.7" y2="622.7" stroke="#000" stroke-width="1.1" />
<line x1="349.3" y1="659.3" x2="355.7" y2="659.3" stroke="#000" stroke-width="1.1" />
<line x1="389.5" y1="610.2" x2="389.5" y2="619.4" stroke="#000" stroke-width="1.1" />
<line x1="386.3" y1="610.2" x2="392.7" y2="610.2" stroke="#000" stroke-width="1.1" />
<line x1="386.3" y1="619.4" x2="392.7" y2="619.4" stroke="#000" stroke-width="1.1" />
<line x1="426.5" y1="631.2" x2="426.5" y2="650.8" stroke="#000" stroke-width="1.1" />
<line x1="423.3" y1="631.2" x2="429.7" y2="631.2" stroke="#000" stroke-width="1.1" />
<line x1="423.3" y1="650.8" x2="429.7" y2="650.8" stroke="#000" stroke-width="1.1" />
<text x="4" y="535.8" font-size="24.5" text-anchor="start" fill="#000" color="#000" font-family='"Liberation Sans", sans-serif' font-weight="bold" >C</text>
<text x="272.7" y="774" font-size="18" text-anchor="middle" fill="#000" color="#000" font-family='"Liberation Serif", serif' font-weight="normal" >Mouse Age</text>
<g transform="translate(15.6,640.5) rotate(-90)"><text x="0" y="0" font-size="18" text-anchor="middle" font-family='"Liberation Serif", serif'>Thymocyte:CD45<tspan font-size="8" dy="-9.5">-</tspan><tspan dy="9.5"> stromal</tspan></text></g>
<g transform="translate(33.5,640.5) rotate(-90)"><text x="0" y="0" font-size="18" text-anchor="middle" font-family='"Liberation Serif", serif'>cell ratio</text></g>
</svg>
</body></html>
